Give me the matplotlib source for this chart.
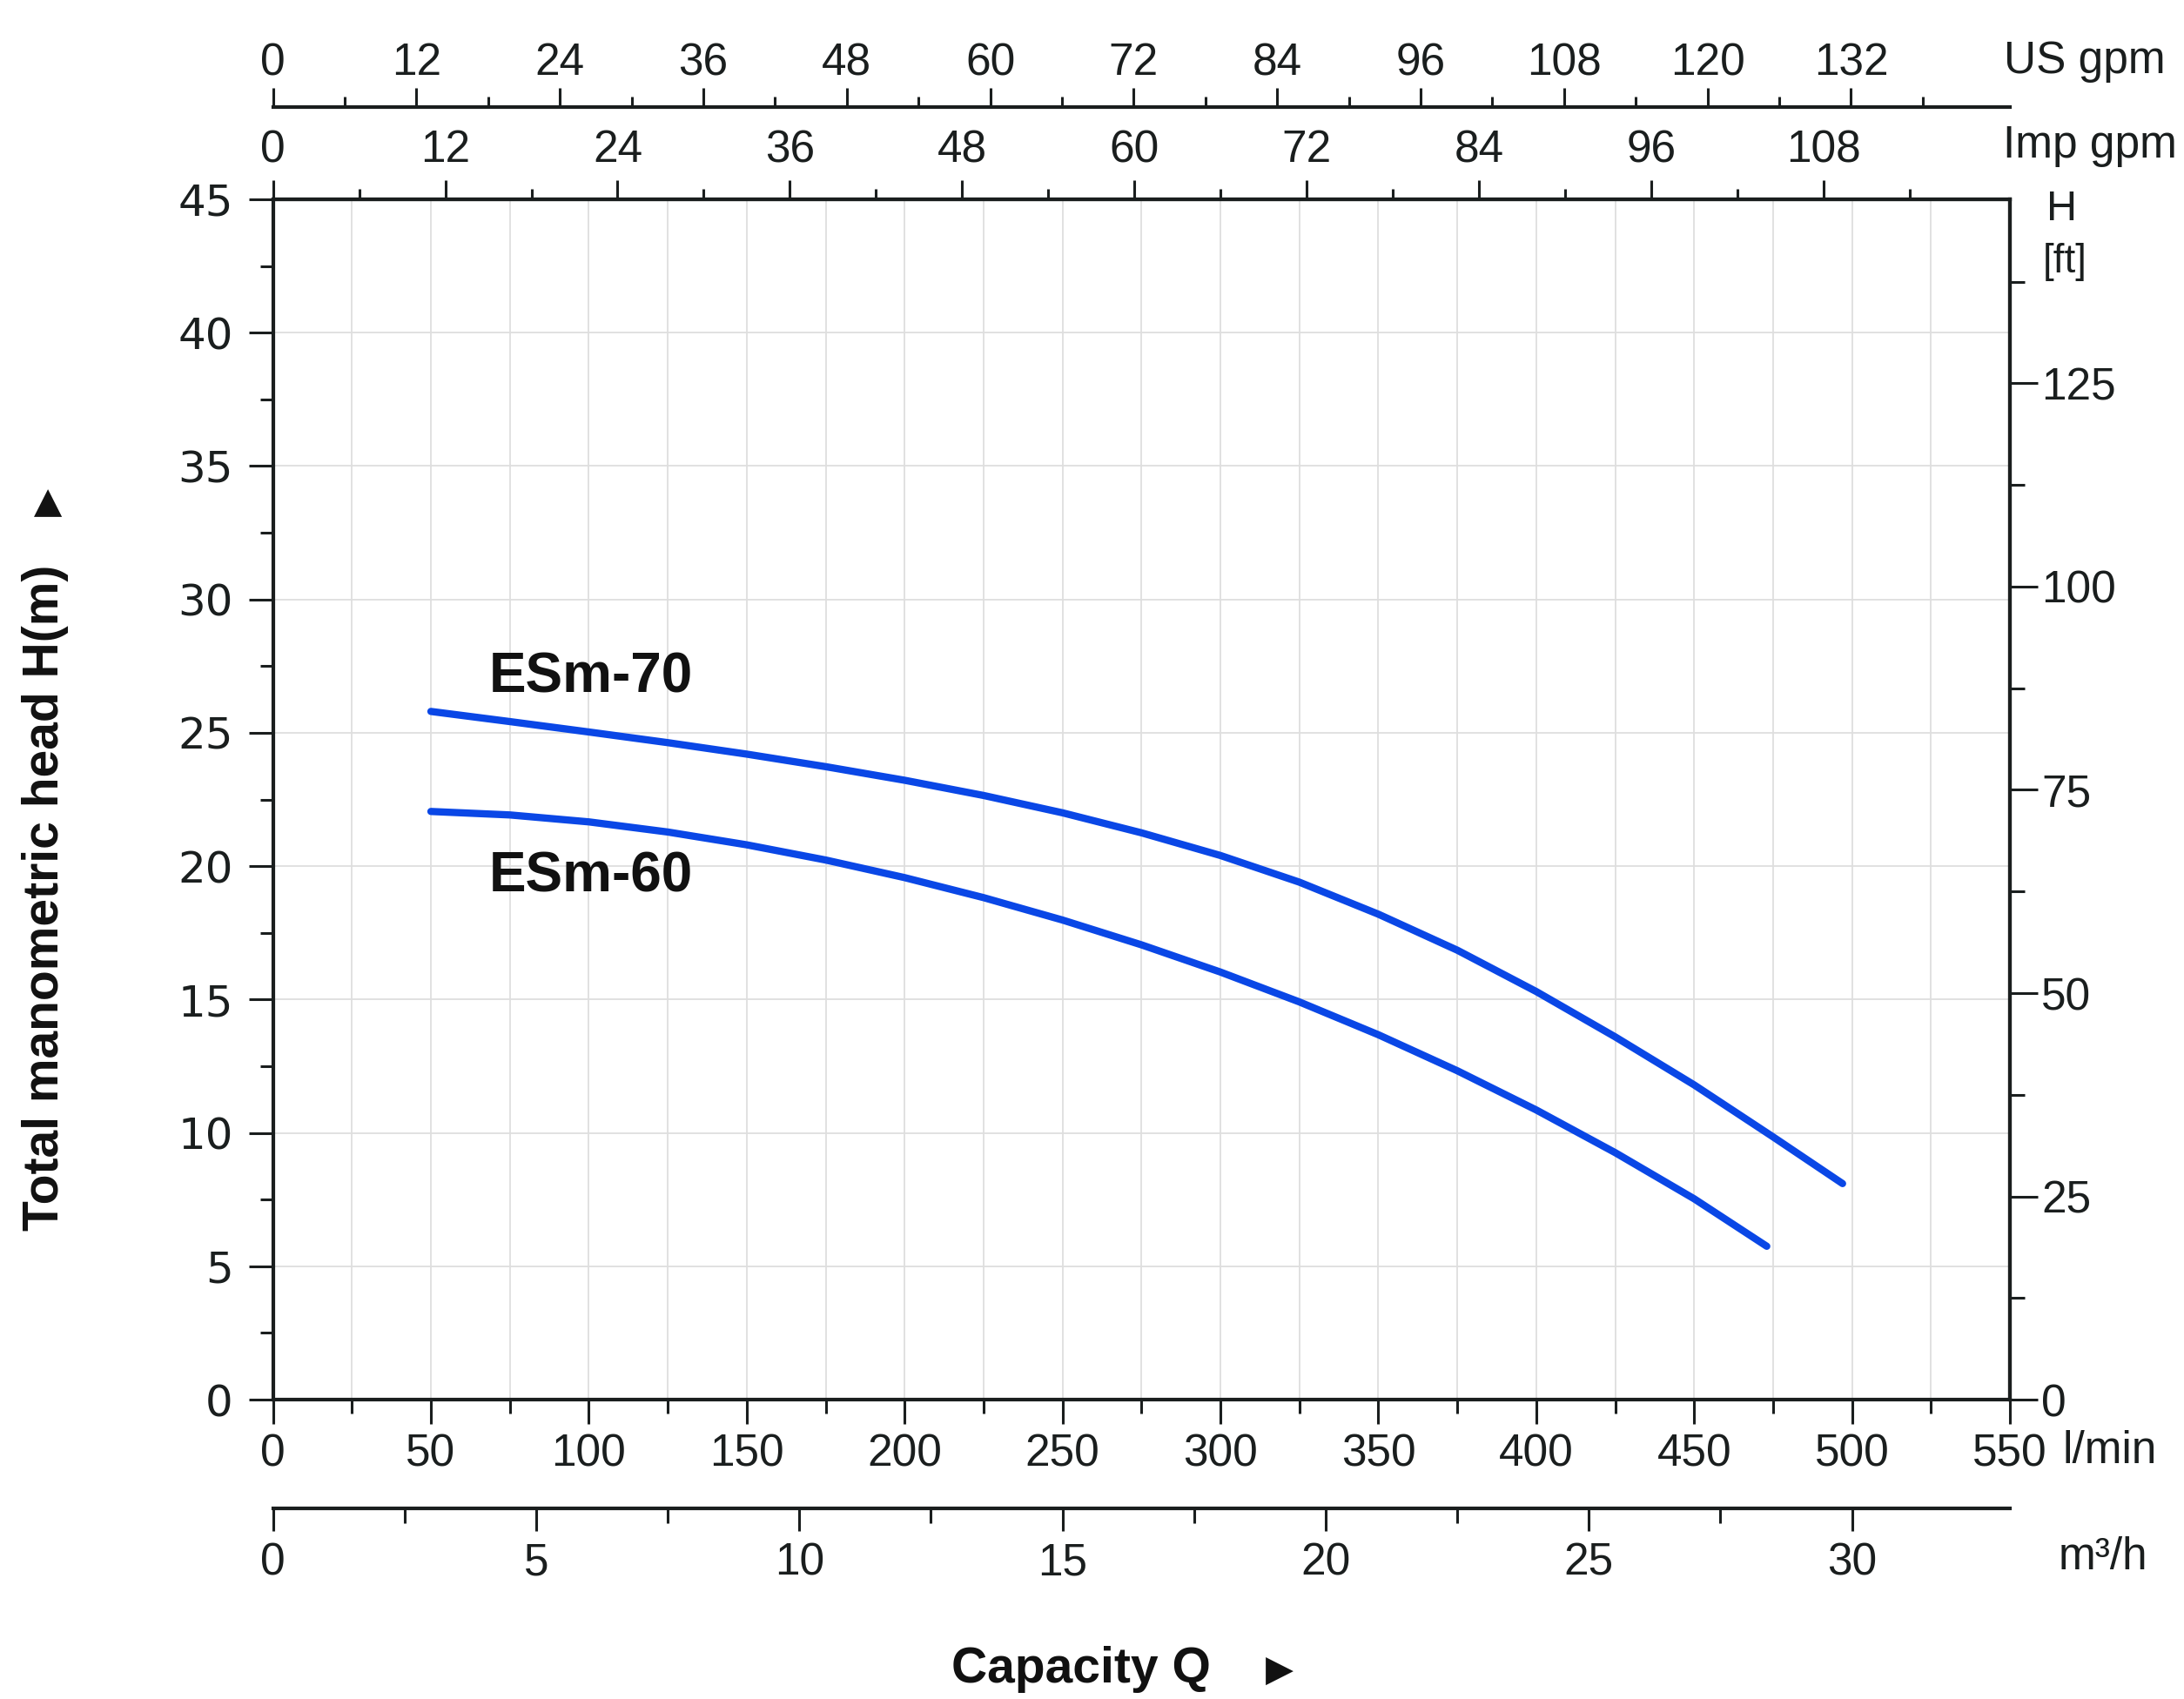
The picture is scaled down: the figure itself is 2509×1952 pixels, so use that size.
import matplotlib
matplotlib.use("Agg")
import matplotlib.pyplot as plt
from matplotlib.ticker import FixedLocator, FixedFormatter, NullFormatter

plt.rcParams['font.family'] = ['Liberation Sans', 'DejaVu Sans']

# ---------------- data ----------------
q_esm70 = [50, 75, 100, 125, 150, 175, 200, 225, 250, 275, 300, 325, 350, 375, 400, 425, 450, 475, 497]
h_esm70 = [25.8, 25.42, 25.03, 24.63, 24.2, 23.73, 23.22, 22.65, 22.0, 21.25, 20.4, 19.4, 18.2, 16.85, 15.3, 13.6, 11.8, 9.85, 8.1]
q_esm60 = [50, 75, 100, 125, 150, 175, 200, 225, 250, 275, 300, 325, 350, 375, 400, 425, 450, 473]
h_esm60 = [22.05, 21.92, 21.66, 21.28, 20.8, 20.23, 19.57, 18.82, 17.98, 17.05, 16.03, 14.91, 13.68, 12.33, 10.86, 9.26, 7.53, 5.75]
series_names = ["ESm-70", "ESm-60"]

lpm_major = list(range(0, 551, 50))
lpm_minor = list(range(25, 550, 50))
h_major = list(range(0, 46, 5))
h_minor = [2.5 + 5 * i for i in range(9)]
ft_major = [0, 25, 50, 75, 100, 125]
ft_minor = [12.5, 37.5, 62.5, 87.5, 112.5, 137.5]
usgpm_major = list(range(0, 133, 12))
usgpm_minor = list(range(6, 139, 12))
impgpm_major = list(range(0, 109, 12))
impgpm_minor = list(range(6, 115, 12))
m3h_major = [0, 5, 10, 15, 20, 25, 30]
m3h_minor = [2.5, 7.5, 12.5, 17.5, 22.5, 27.5]

# ---------------- style ----------------
INK = '#1a1e1e'
BLUE = '#0a47e6'
GRID = '#dedede'
TFS = 37

fig = plt.figure(figsize=(25.09, 19.52), dpi=100)
ax = fig.add_axes([0.125, 0.1762, 0.7953, 0.7065])
ax.set_xlim(0, 550)
ax.set_ylim(0, 45)

for s in ax.spines.values():
    s.set_linewidth(3)
    s.set_color(INK)

ax.xaxis.set_major_locator(FixedLocator(lpm_major))
ax.xaxis.set_minor_locator(FixedLocator(lpm_minor))
ax.yaxis.set_major_locator(FixedLocator(h_major))
ax.yaxis.set_minor_locator(FixedLocator(h_minor))
ax.set_xticklabels([str(v) for v in lpm_major])
ax.set_yticklabels([str(v) for v in h_major])

ax.tick_params(axis='x', which='major', direction='out', length=20, width=2.2, color=INK,
               labelsize=TFS, pad=8, labelcolor=INK)
ax.tick_params(axis='x', which='minor', direction='out', length=11.5, width=2.2, color=INK)
ax.tick_params(axis='y', which='major', direction='out', length=20, width=2.2, color=INK,
               labelsize=TFS - 1, pad=13, labelcolor=INK, labelfontfamily='DejaVu Sans')
ax.tick_params(axis='y', which='minor', direction='out', length=11, width=2.2, color=INK)

# grid
for v in range(25, 550, 25):
    ax.axvline(v, color=GRID, lw=1.3, zorder=0)
for v in range(5, 45, 5):
    ax.axhline(v, color=GRID, lw=1.3, zorder=0)

# curves
ax.plot(q_esm70, h_esm70, color=BLUE, lw=6, solid_capstyle='round',
        solid_joinstyle='round', zorder=3)
ax.plot(q_esm60, h_esm60, color=BLUE, lw=6, solid_capstyle='round',
        solid_joinstyle='round', zorder=3)
ax.text(68.5, 26.5, series_names[0], fontsize=46, fontweight='bold', color='#111111',
        ha='left', va='baseline')
ax.text(68.5, 19.05, series_names[1], fontsize=46, fontweight='bold', color='#111111',
        ha='left', va='baseline')


def style_sec(sec, major, minor, maj_len, min_len, pad, labelsize=TFS):
    for s in sec.spines.values():
        s.set_linewidth(3)
        s.set_color(INK)
    axis = sec.xaxis if sec._orientation == 'x' else sec.yaxis
    axis.set_major_locator(FixedLocator(major))
    axis.set_minor_locator(FixedLocator(minor))
    axis.set_major_formatter(FixedFormatter([('%g' % v) for v in major]))
    axis.set_minor_formatter(NullFormatter())
    sec.tick_params(which='major', direction='out', length=maj_len, width=2.2, color=INK,
                    labelsize=labelsize, pad=pad, labelcolor=INK)
    sec.tick_params(which='minor', direction='out', length=min_len, width=2.2, color=INK)


# Imp gpm (top spine)
imp = ax.secondary_xaxis('top', functions=(lambda x: x / 4.54609, lambda x: x * 4.54609))
style_sec(imp, impgpm_major, impgpm_minor, 16, 9, 7)

# US gpm (above)
us = ax.secondary_xaxis(1.0769, functions=(lambda x: x / 3.78541, lambda x: x * 3.78541))
style_sec(us, usgpm_major, usgpm_minor, 16, 9, 2.5)

# m3/h (below)
m3 = ax.secondary_xaxis(-0.0906, functions=(lambda x: x * 0.06, lambda x: x / 0.06))
style_sec(m3, m3h_major, m3h_minor, 19, 12, 9)

# ft (right)
ft = ax.secondary_yaxis('right', functions=(lambda y: y * 3.28084, lambda y: y / 3.28084))
style_sec(ft, ft_major, ft_minor, 23, 12, 3)

# unit labels
fig.text(0.9175, 0.964, 'US gpm', fontsize=TFS, ha='left', va='center', color=INK)
fig.text(0.917, 0.914, 'Imp gpm', fontsize=TFS, ha='left', va='center', color=INK)
fig.text(0.944, 0.877, 'H', fontsize=35, ha='center', va='center', color=INK)
fig.text(0.9455, 0.846, '[ft]', fontsize=33, ha='center', va='center', color=INK)
fig.text(0.9445, 0.1455, 'l/min', fontsize=TFS, ha='left', va='center', color=INK)
fig.text(0.963, 0.083, 'm³/h', fontsize=TFS, ha='center', va='center', color=INK)

# axis titles
fig.text(0.0207, 0.4718, 'Total manometric head H(m)', fontsize=41, fontweight='bold',
         rotation=90, ha='center', va='center', color='#111111')
fig.text(0.0223, 0.7044, '▶', fontsize=30, rotation=90, ha='center', va='center',
         color='#111111', family='DejaVu Sans')
fig.text(0.495, 0.0097, 'Capacity Q', fontsize=41, fontweight='bold',
         ha='center', va='baseline', color='#111111')
fig.text(0.586, 0.0164, '▶', fontsize=30, ha='center', va='center',
         color='#111111', family='DejaVu Sans')

fig.savefig('out.png', dpi=100, facecolor='white')
